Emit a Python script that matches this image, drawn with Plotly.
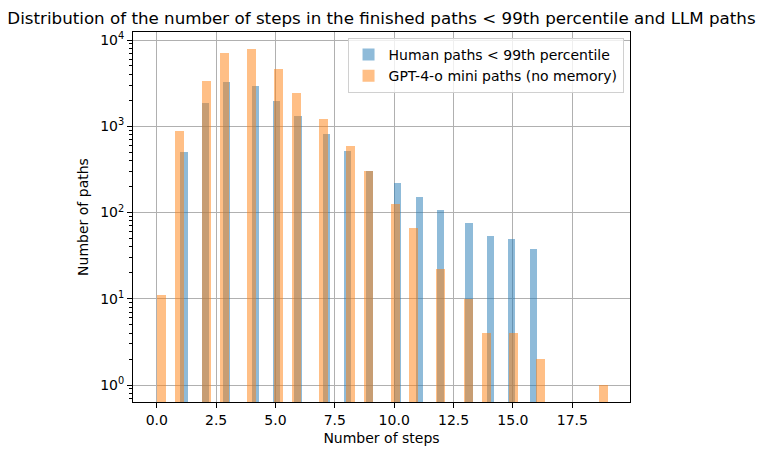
import numpy as np
import plotly.graph_objects as go

# ---- data (counts of paths per number of steps) ----
steps = list(range(0, 20))
human_counts = [0, 500, 1860, 3260, 2930, 1950, 1315, 813, 517, 300,
                220, 151, 107, 75, 53, 49, 38, 0, 0, 0]
gpt_counts = [11, 880, 3350, 7070, 7870, 4610, 2400, 1213, 590, 303,
              126, 66, 22, 10, 4, 4, 2, 0, 0, 1]

human_name = "Human paths < 99th percentile"
gpt_name = "GPT-4-o mini paths (no memory)"
title = "Distribution of the number of steps in the finished paths < 99th percentile and LLM paths"
x_title = "Number of steps"
y_title = "Number of paths"
x_ticks = [0, 2.5, 5, 7.5, 10, 12.5, 15, 17.5]
y_ticks = [1, 10, 100, 1000, 10000]
y_ticktext = ["10<sup>0</sup>", "10<sup>1</sup>", "10<sup>2</sup>", "10<sup>3</sup>", "10<sup>4</sup>"]
NBINS = 50


def hist_bars(values, counts, nbins):
    vals = [v for v, c in zip(values, counts) if c > 0]
    lo, hi = min(vals), max(vals)
    h, edges = np.histogram(values, bins=nbins, range=(lo, hi), weights=counts)
    w = edges[1] - edges[0]
    mask = h > 0
    return edges[:-1][mask], h[mask], w


fig = go.Figure()
for vals, cnts, name, color in [
    (steps, human_counts, human_name, "rgba(31,119,180,0.5)"),
    (steps, gpt_counts, gpt_name, "rgba(255,127,14,0.5)"),
]:
    x0, h, w = hist_bars(vals, cnts, NBINS)
    fig.add_trace(go.Bar(
        x=x0, y=h, width=w, offset=0, name=name,
        marker=dict(color=color, line=dict(width=0)),
    ))

minor_vals = [m * 10 ** e for e in range(-1, 5) for m in range(2, 10)]

fig.update_layout(
    width=764, height=455,
    barmode="overlay",
    bargap=0,
    paper_bgcolor="white", plot_bgcolor="white",
    font=dict(family="DejaVu Sans", size=14, color="black"),
    margin=dict(l=133, r=134, t=32, b=53, autoexpand=False),
    title=dict(text=title, x=0.5, xref="paper", xanchor="center",
               y=1 - 18 / 455, yanchor="middle", font=dict(size=16.7)),
    showlegend=True,
    legend=dict(x=0.987, y=0.984, xanchor="right", yanchor="top",
                bgcolor="rgba(255,255,255,0.8)", bordercolor="#d0d0d0",
                borderwidth=1, font=dict(size=14), traceorder="normal"),
    xaxis=dict(
        range=[-1.0, 19.93], tickmode="array", tickvals=x_ticks,
        ticktext=[f"{t:.1f}" for t in x_ticks],
        tickfont=dict(size=14), automargin=False,
        showgrid=True, gridcolor="#b0b0b0", gridwidth=0.8,
        ticks="outside", ticklen=5, tickcolor="black",
        showline=True, linecolor="black", linewidth=1, mirror=True,
        zeroline=False,
        title=dict(text=x_title, standoff=6, font=dict(size=14)),
    ),
    yaxis=dict(
        type="log", range=[-0.197, 4.093],
        tickmode="array", tickvals=y_ticks, ticktext=y_ticktext,
        tickfont=dict(size=14), automargin=False,
        showgrid=True, gridcolor="#b0b0b0", gridwidth=0.8,
        ticks="outside", ticklen=5, tickcolor="black",
        minor=dict(tickmode="array", tickvals=minor_vals, ticks="outside",
                   ticklen=3, tickcolor="black", showgrid=False),
        showline=True, linecolor="black", linewidth=1, mirror=True,
        zeroline=False,
        title=dict(text=y_title, standoff=8, font=dict(size=14)),
    ),
)

fig.write_html("out.html",
               config={"displayModeBar": False},
               post_script="document.body.style.margin='0';document.body.style.overflow='hidden';")
